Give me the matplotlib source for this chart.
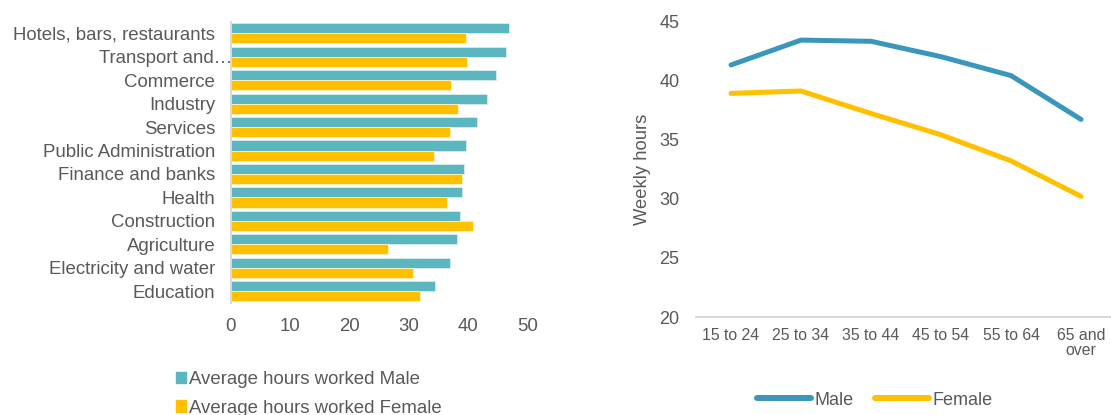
import matplotlib
matplotlib.use("Agg")
import matplotlib.pyplot as plt
from matplotlib.patches import Patch
from matplotlib.lines import Line2D
from matplotlib.transforms import ScaledTranslation
import numpy as np

plt.rcParams['font.family'] = ['Liberation Sans', 'DejaVu Sans']
grey_text = '#595959'
axis_grey = '#d9d9d9'

# hours worked by sector
sectors = ["Hotels, bars, restaurants", "Transport and…", "Commerce", "Industry",
           "Services", "Public Administration", "Finance and banks", "Health",
           "Construction", "Agriculture", "Electricity and water", "Education"]
male_hours = [46.9, 46.4, 44.7, 43.2, 41.6, 39.7, 39.4, 39.0, 38.7, 38.1, 37.0, 34.4]
female_hours = [39.7, 39.9, 37.2, 38.4, 37.0, 34.3, 39.0, 36.5, 40.8, 26.5, 30.7, 32.0]

# weekly hours by age group
age_groups = ["15 to 24", "25 to 34", "35 to 44", "45 to 54", "55 to 64", "65 and\nover"]
male_weekly = [41.3, 43.4, 43.3, 42.0, 40.4, 36.7]
female_weekly = [38.9, 39.1, 37.2, 35.4, 33.2, 30.2]

bar_male = '#5BB6C0'
bar_female = '#FFC000'
line_male = '#3A96BC'
line_female = '#FFC000'

fig = plt.figure(figsize=(11.11, 4.15), dpi=100)

# left: horizontal bars
ax1 = fig.add_axes([0.2075, 0.270, 0.2670, 0.678])
y = np.arange(len(sectors))
h = 0.43
ax1.barh(y - h / 2, male_hours, height=h, color=bar_male, edgecolor='#d6eef0', linewidth=0.6)
ax1.barh(y + h / 2, female_hours, height=h, color=bar_female, edgecolor='#fff2c8', linewidth=0.6)
ax1.set_ylim(len(sectors) - 0.5, -0.5)
ax1.set_xlim(0, 50)
ax1.set_xticks([0, 10, 20, 30, 40, 50])
ax1.set_yticks(y)
ax1.set_yticklabels(sectors)
ax1.tick_params(axis='both', length=0, labelsize=13.4, colors=grey_text)
ax1.tick_params(axis='x', pad=11)
ax1.tick_params(axis='y', pad=11)
for s in ['top', 'right', 'bottom']:
    ax1.spines[s].set_visible(False)
ax1.spines['left'].set_color(axis_grey)
ax1.spines['left'].set_linewidth(1.5)
# the shortened label hangs over the axis
lbl = ax1.get_yticklabels()[1]
lbl.set_transform(lbl.get_transform() + ScaledTranslation(0.17, 0, fig.dpi_scale_trans))

fig.legend(handles=[Patch(color=bar_male, label='Average hours worked Male'),
                    Patch(color=bar_female, label='Average hours worked Female')],
           loc='upper left', bbox_to_anchor=(0.158, 0.106), bbox_transform=fig.transFigure,
           frameon=False, fontsize=13.4, handlelength=0.55, handleheight=0.55,
           handletextpad=0.18, labelspacing=0.62, labelcolor=grey_text,
           borderaxespad=0, borderpad=0)

# right: lines by age
ax2 = fig.add_axes([0.6265, 0.236, 0.3780, 0.713])
x = np.arange(len(age_groups))
ax2.plot(x, male_weekly, color=line_male, lw=3.6, solid_capstyle='round', solid_joinstyle='round')
ax2.plot(x, female_weekly, color=line_female, lw=3.6, solid_capstyle='round', solid_joinstyle='round')
ax2.set_xlim(-0.5, len(age_groups) - 0.5)
ax2.set_ylim(20, 45)
ax2.set_yticks([20, 25, 30, 35, 40, 45])
ax2.set_xticks(x)
ax2.set_xticklabels(age_groups, linespacing=1.0)
ax2.tick_params(axis='both', length=0, colors=grey_text)
ax2.tick_params(axis='y', labelsize=13, pad=12)
ax2.tick_params(axis='x', labelsize=11.4, pad=8)
ax2.set_ylabel('Weekly hours', fontsize=13.2, color=grey_text, labelpad=6)
for s in ['top', 'right', 'left']:
    ax2.spines[s].set_visible(False)
ax2.spines['bottom'].set_color(axis_grey)
ax2.spines['bottom'].set_linewidth(1.5)

fig.legend(handles=[Line2D([], [], color=line_male, lw=4.3, solid_capstyle='round', label='Male'),
                    Line2D([], [], color=line_female, lw=4.3, solid_capstyle='round', label='Female')],
           loc='center left', bbox_to_anchor=(0.681, 0.036), bbox_transform=fig.transFigure,
           ncol=2, frameon=False, fontsize=13, handlelength=3.0, handletextpad=0.2,
           columnspacing=1.2, labelcolor=grey_text, borderaxespad=0, borderpad=0)

fig.savefig('out.png', dpi=100)
